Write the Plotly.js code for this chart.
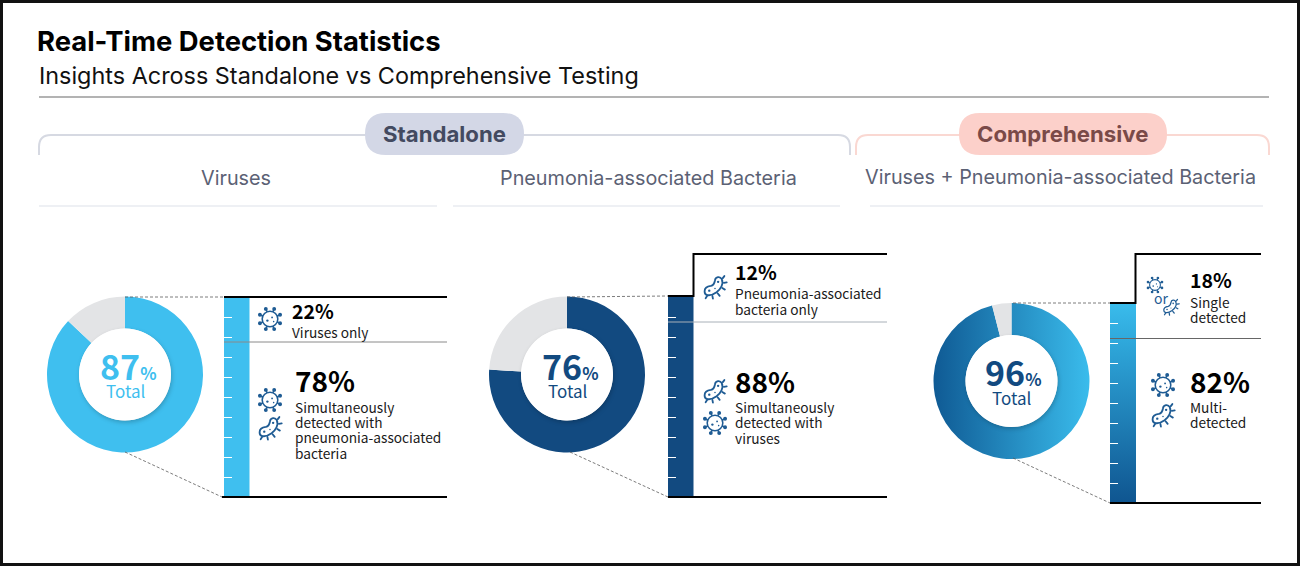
<!DOCTYPE html>
<html><head><meta charset="utf-8">
<script src="https://cdn.plot.ly/plotly-3.0.1.min.js"></script>
<style>html,body{margin:0;padding:0;background:#fff;overflow:hidden}#c{width:1300px;height:566px}</style>
</head><body><div id="c"></div>
<script>
// ---- data ----
const donutTotals = [87, 76, 96];
const upperShare = [22, 12, 18];
const lowerShare = [78, 88, 82];
const columnHeads = ['Viruses', 'Pneumonia-associated Bacteria', 'Viruses + Pneumonia-associated Bacteria'];
const groupNames = ['Standalone', 'Comprehensive'];
const scaleTicks = [10, 20, 30, 40, 50, 60, 70, 80, 90];

const W = 1300, H = 566;
const X = p => p / W, Y = p => 1 - p / H;
const LIGHT = '#3fbfef', DARK = '#124a80', GREY = '#e3e4e6';
const UI = 'Inter, sans-serif', BODY = '"Noto Sans CJK KR", "Noto Sans", sans-serif';

// geometry of the three panels (pixels)
const panels = [
  {cx:125,   cy:374.5, r:78, bar:[224,249.5],  top:297, bot:497, color:LIGHT, text:LIGHT},
  {cx:567,   cy:374.5, r:78, bar:[668,693.5],  top:297, bot:497, color:DARK,  text:DARK},
  {cx:1011.5,cy:381,   r:78, bar:[1110,1136],  top:303, bot:503, color:DARK,  text:DARK}
];

const data = [], layout = {
  width:W, height:H, margin:{l:0,r:0,t:0,b:0,pad:0}, paper_bgcolor:'#fff', plot_bgcolor:'rgba(0,0,0,0)',
  showlegend:false, barmode:'stack', shapes:[], annotations:[], images:[]
};

panels.forEach((p,i)=>{
  data.push({type:'pie', values:[donutTotals[i], 100-donutTotals[i]], sort:false, direction:'clockwise', rotation:0,
    hole:46/78, textinfo:'none', hoverinfo:'skip',
    marker:{colors:[p.color,GREY], line:{width:0}},
    domain:{x:[X(p.cx-p.r),X(p.cx+p.r)], y:[Y(p.cy+p.r),Y(p.cy-p.r)]}});
  const n = i===0?'':String(i+1);
  const xa='x'+n, ya='y'+n;
  data.push({type:'bar', x:['s'], y:[upperShare[i]], xaxis:xa, yaxis:ya, width:1, marker:{color:p.color,line:{width:0}}, hoverinfo:'skip'});
  data.push({type:'bar', x:['s'], y:[lowerShare[i]], xaxis:xa, yaxis:ya, width:1, marker:{color:p.color,line:{width:0}}, hoverinfo:'skip'});
  layout['xaxis'+n]={domain:[X(p.bar[0]),X(p.bar[1])], anchor:ya, type:'category', range:[-0.5,0.5], showticklabels:false, ticks:'', showgrid:false, zeroline:false, showline:false, fixedrange:true};
  layout['yaxis'+n]={domain:[Y(p.bot),Y(p.top)], anchor:xa, range:[100,0], tickmode:'array', tickvals:scaleTicks, ticks:'inside', ticklen:8, tickwidth:1, tickcolor:'#ffffff', showticklabels:false, showgrid:false, zeroline:false, showline:false, fixedrange:true};
});

// ---- decoration helpers ----
const path=(d,color,width,extra)=>{
  const conv=d.replace(/(-?[\d.]+),(-?[\d.]+)/g,(m,a,b)=>X(+a).toFixed(6)+','+Y(+b).toFixed(6));
  layout.shapes.push(Object.assign({type:'path',xref:'paper',yref:'paper',path:conv,line:{color:color,width:width},layer:'above'},extra||{}));
};
const seg=(x1,y1,x2,y2,color,width,dash)=>layout.shapes.push({type:'line',xref:'paper',yref:'paper',x0:X(x1),x1:X(x2),y0:Y(y1),y1:Y(y2),line:{color:color,width:width,dash:dash||'solid'},layer:'above'});
const txt=(t,x,y,size,color,opts)=>layout.annotations.push(Object.assign({xref:'paper',yref:'paper',x:X(x),y:Y(y),text:t,showarrow:false,xanchor:'left',yanchor:'middle',align:'left',borderpad:0,font:{family:BODY,size:size,color:color}},opts||{}));

// frame
layout.shapes.push({type:'rect',xref:'paper',yref:'paper',x0:X(1.5),x1:X(1298.5),y0:Y(1.5),y1:Y(564.5),line:{color:'#111',width:3},fillcolor:'rgba(0,0,0,0)',layer:'above'});

// header
txt('<b>Real-Time Detection Statistics</b>',36,41,27.4,'#000',{font:{family:UI,size:27.4,color:'#000'}});
txt('Insights Across Standalone vs Comprehensive Testing',38,75,23.4,'#111',{font:{family:UI,size:23.4,color:'#111'}});
seg(39,97,1269,97,'#9a9a9a',1.5);

// group brackets + pills
path('M39,155 L39,147 Q39,135 51,135 L838,135 Q850,135 850,147 L850,155','#d6d9e2',2);
path('M856,155 L856,147 Q856,135 868,135 L1257,135 Q1269,135 1269,147 L1269,155','#fad8d2',2);
const pill=(x0,x1,col)=>{const y0=113,y1=155,r=21;
  path(`M${x0+r},${y0} L${x1-r},${y0} Q${x1},${y0} ${x1},${y0+r} Q${x1},${y1} ${x1-r},${y1} L${x0+r},${y1} Q${x0},${y1} ${x0},${y0+r} Q${x0},${y0} ${x0+r},${y0} Z`,col,0,{fillcolor:col,line:{width:0}});
};
pill(365,524,'#d3d7e6'); pill(959,1167,'#fcd0ca');
txt('<b>'+groupNames[0]+'</b>',444.5,133.2,22.2,'#434a60',{xanchor:'center',font:{family:UI,size:22.2,color:'#434a60'}});
txt('<b>'+groupNames[1]+'</b>',1062.5,133.2,22.2,'#7a4a48',{xanchor:'center',font:{family:UI,size:22.2,color:'#7a4a48'}});
[[236,177.5],[648.5,177.5],[1060,176.5]].forEach((c,i)=>txt(columnHeads[i],c[0],c[1]+0.5,19.8,'#5b6174',{xanchor:'center',font:{family:UI,size:19.8,color:'#5b6174'}}));
seg(39,206,437,206,'#eef0f4',2); seg(453,206,840,206,'#eef0f4',2); seg(870,206,1263,206,'#eef0f4',2);

// connectors and panel rules
const DASH='rgb(90,90,90)';
seg(125,297,224,297,DASH,0.8,'3px,2px'); seg(125,452,222,497,DASH,0.8,'3px,2px');
seg(567,297,668,296,DASH,0.8,'3px,2px'); seg(570,452,668,497,DASH,0.8,'3px,2px');
seg(1013,303,1110,303,DASH,0.8,'3px,2px'); seg(1013,458,1110,503,DASH,0.8,'3px,2px');
seg(224,297,447,297,'#000',2); seg(222,497,447,497,'#000',2); seg(224,342,447,342,'#8a8a8a',1);
path('M668,296 L693.5,296 L693.5,254 L887,254','#000',2);
seg(668,497,887,497,'#000',2); seg(668,322,887,322,'#a8b0b8',1);
path('M1110,303 L1135.5,303 L1135.5,254 L1261,254','#000',2);
seg(1110,503,1261,503,'#000',2); seg(1110,338.5,1261,338.5,'#666',1);

// donut centres
panels.forEach((p,i)=>{
  layout.shapes.push({type:'circle',xref:'paper',yref:'paper',x0:X(p.cx-46),x1:X(p.cx+46),y0:Y(p.cy+46),y1:Y(p.cy-46),fillcolor:'#fff',line:{width:0},layer:'above',name:'hole'});
});
const centres=[[128,365.5,390.5,125.5],[570.5,365.5,390.5,567.5],[1013,371.5,397.5,1011.5]];
panels.forEach((p,i)=>{
  const c=centres[i];
  txt(`<b><span style="font-size:34px">${donutTotals[i]}</span><span style="font-size:17px">%</span></b>`,c[0],c[1],34,p.text,{xanchor:'center'});
  txt('Total',c[3],c[2],17,p.text,{xanchor:'center'});
});

// panel copy
const bold=(t,x,y,s)=>txt('<b>'+t+'</b>',x,y,s,'#000');
const copy=(lines,x,ys)=>lines.forEach((l,i)=>txt(l,x,ys[i],13.7,'#1a1a1a'));
bold(upperShare[0]+'%',291,310,19.5); copy(['Viruses only'],291,[331.5]);
bold(lowerShare[0]+'%',293.5,380,28); copy(['Simultaneously','detected with','pneumonia-associated','bacteria'],293.5,[406.5,421.5,437,452.5]);
bold(upperShare[1]+'%',734.5,271,19.5); copy(['Pneumonia-associated','bacteria only'],734.5,[292.5,308.5]);
bold(lowerShare[1]+'%',734.5,381,28); copy(['Simultaneously','detected with','viruses'],734.5,[406.5,421.5,437.5]);
bold(upperShare[2]+'%',1188.5,279,19.5); copy(['Single','detected'],1188.5,[301.5,316.5]);
bold(lowerShare[2]+'%',1188.5,381,28); copy(['Multi-','detected'],1188.5,[406.5,421.5]);
txt('or',1161,298,14,'#1f5c94',{xanchor:'center'});

// icons
const ICON='#1f5c94';
let spikes='';
for(let a=0;a<8;a++){const t=a*Math.PI/4+Math.PI/8,c=Math.cos(t),s=Math.sin(t);
  const x=(50+c*30).toFixed(1),y=(50+s*30).toFixed(1),x2=(50+c*42).toFixed(1),y2=(50+s*42).toFixed(1);
  spikes+=`<line x1="${x}" y1="${y}" x2="${x2}" y2="${y2}"/><circle cx="${x2}" cy="${y2}" r="4.5" fill="${ICON}"/>`;}
const virusSvg=`<svg xmlns="http://www.w3.org/2000/svg" viewBox="0 0 100 100"><g fill="none" stroke="${ICON}" stroke-width="6"><circle cx="50" cy="50" r="30"/>${spikes}</g><g fill="${ICON}"><circle cx="40" cy="56" r="4.5"/><circle cx="58" cy="44" r="3.5"/><circle cx="64" cy="60" r="3"/></g></svg>`;
const bacteriaSvg=`<svg xmlns="http://www.w3.org/2000/svg" viewBox="0 0 100 100"><g fill="none" stroke="${ICON}" stroke-width="7" stroke-linecap="round" stroke-linejoin="round"><path d="M10 66C10 52 22 48 34 46C44 44 48 36 50 24C52 10 70 8 76 20C84 38 72 58 56 70C42 80 28 84 18 80C12 78 10 72 10 66Z"/><path d="M80 16L86 8M84 34L95 32M78 54L88 60M60 74L68 84M40 84L42 95M20 84L14 93"/></g><g fill="${ICON}"><circle cx="28" cy="64" r="4.5"/><circle cx="62" cy="30" r="4.5"/><circle cx="50" cy="56" r="3"/></g></svg>`;
const img=(svg,cx,cy,size)=>layout.images.push({source:'data:image/svg+xml;utf8,'+encodeURIComponent(svg),xref:'paper',yref:'paper',x:X(cx-size/2),y:Y(cy-size/2),sizex:size/W,sizey:size/H,xanchor:'left',yanchor:'top',sizing:'stretch',layer:'above'});
img(virusSvg,270,319,26); img(virusSvg,270,400,26); img(bacteriaSvg,270,428,26);
img(bacteriaSvg,715,287,26); img(bacteriaSvg,715,391,26); img(virusSvg,715,423,26);
img(virusSvg,1155,285,18); img(bacteriaSvg,1171,307,18); img(virusSvg,1163,385,26); img(bacteriaSvg,1163,415,26);

Plotly.newPlot('c',data,layout,{staticPlot:true,displayModeBar:false}).then(()=>{
  const gd=document.getElementById('c');
  const svg=gd.querySelector('svg.main-svg');
  const ns='http://www.w3.org/2000/svg';
  const defs=svg.querySelector('defs')||svg.insertBefore(document.createElementNS(ns,'defs'),svg.firstChild);
  const grad=(id,x2,y2,a,b)=>{const g=document.createElementNS(ns,'linearGradient');g.id=id;g.setAttribute('x1',0);g.setAttribute('y1',0);g.setAttribute('x2',x2);g.setAttribute('y2',y2);
    [[0,a],[1,b]].forEach(s=>{const t=document.createElementNS(ns,'stop');t.setAttribute('offset',s[0]);t.setAttribute('stop-color',s[1]);g.appendChild(t);});defs.appendChild(g);};
  grad('dn3',1,0,'#0f5a94','#3abcec');
  grad('bUp',0,1,'#3abcec','#2fa9dc');
  grad('bLo',0,1,'#2fa9dc','#0f5590');
  const slices=gd.querySelectorAll('.pielayer .trace');
  slices[2].querySelector('.slice path').style.fill='url(#dn3)';
  const bars=gd.querySelectorAll('.barlayer .points path');
  bars[4].style.fill='url(#bUp)'; bars[5].style.fill='url(#bLo)';
  gd.querySelectorAll('.shapelayer path').forEach(p=>{
    if(p.getAttribute('data-index')!==null && p.style.fill==='rgb(255, 255, 255)') p.style.filter='drop-shadow(1px 2px 2px rgba(0,0,0,.2))';
  });
});
</script></body></html>
